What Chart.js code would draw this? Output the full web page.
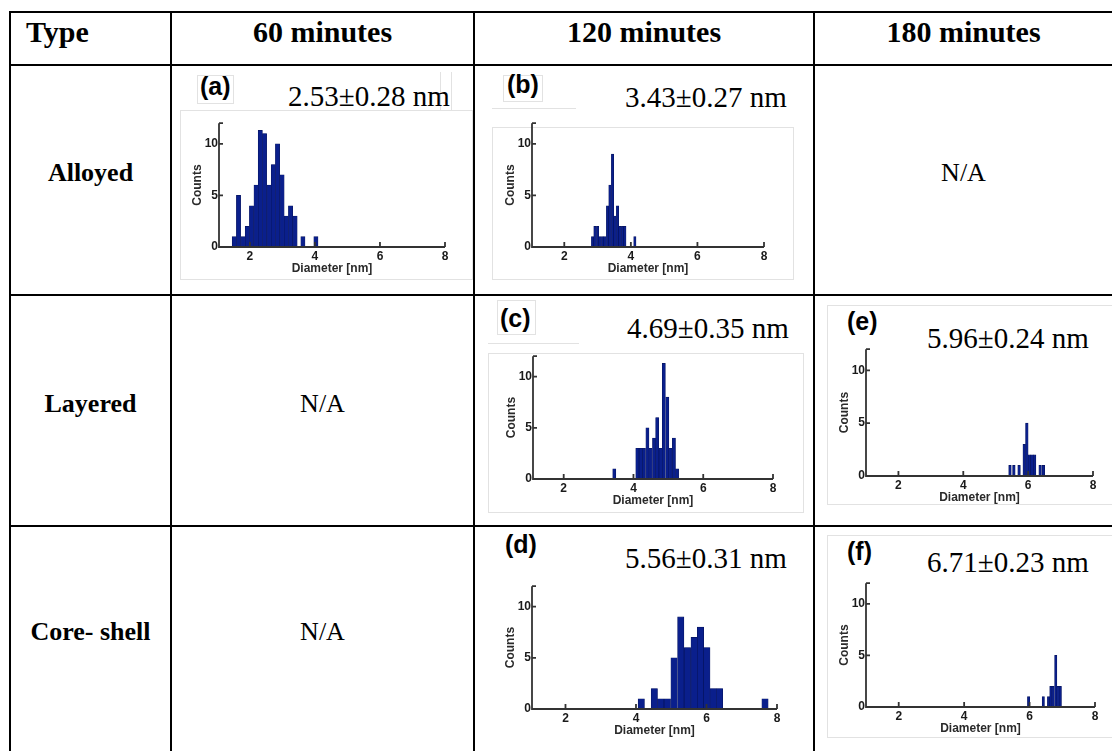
<!DOCTYPE html>
<html lang="en">
<head>
<meta charset="UTF-8">
<title>Particle size histograms</title>
<script src="https://cdn.jsdelivr.net/npm/chart.js"></script>
<style>
  html, body { margin: 0; padding: 0; background: #fff; }
  #page { position: relative; width: 1112px; height: 751px; overflow: hidden; }
  .line { position: absolute; background: #000; }
  .frame { position: absolute; border: 1px solid #e2e2e2; box-sizing: border-box; }
  .hair { position: absolute; background: #e2e2e2; }
  .txt { position: absolute; white-space: nowrap; color: #000; }
  canvas { position: absolute; }
</style>
</head>
<body>
<div id="page"></div>
<script>
  // table text
  const columns = ['Type', '60 minutes', '120 minutes', '180 minutes'];
  const rowTypes = ['Alloyed', 'Layered', 'Core- shell'];
  const missing = 'N/A';

  // histogram labels
  const panelLabels = ['(a)', '(b)', '(c)', '(d)', '(e)', '(f)'];
  const sizeLabels = ['2.53±0.28 nm', '3.43±0.27 nm', '4.69±0.35 nm', '5.56±0.31 nm', '5.96±0.24 nm', '6.71±0.23 nm'];
  const xTicks = [2, 4, 6, 8];
  const yTicks = [0, 5, 10];

  // bin centres [nm] and counts
  const diamA = [1.52, 1.65, 1.79, 1.92, 2.05, 2.19, 2.32, 2.45, 2.59, 2.72, 2.85, 2.99, 3.12, 3.25, 3.39, 3.63, 4.03];
  const countsA = [1, 5, 1, 2, 4, 6, 11.3, 11, 6, 8, 10, 7, 3, 4, 3, 1, 1];

  const diamB = [2.85, 2.92, 3.00, 3.07, 3.15, 3.22, 3.30, 3.37, 3.45, 3.52, 3.60, 3.67, 3.75, 3.82, 4.12];
  const countsB = [1, 2, 2, 1, 1, 1, 4, 6, 9, 3, 4, 2, 2, 2, 1];

  const diamC = [3.45, 4.11, 4.21, 4.30, 4.40, 4.49, 4.59, 4.68, 4.78, 4.87, 4.97, 5.06, 5.16, 5.25];
  const countsC = [1, 3, 3, 3, 5, 3, 4, 6, 3, 11.3, 8, 3, 4, 1];

  const diamD = [4.15, 4.52, 4.70, 4.89, 5.08, 5.27, 5.46, 5.65, 5.83, 6.01, 6.19, 6.37, 7.66];
  const countsD = [1, 2, 1, 1, 5, 9, 6, 7, 8, 6, 2, 2, 1];

  const diamE = [5.44, 5.56, 5.72, 5.88, 5.96, 6.04, 6.12, 6.20, 6.37, 6.47];
  const countsE = [1, 1, 1, 3, 5, 2, 2, 2, 1, 1];

  const diamF = [5.97, 6.42, 6.58, 6.65, 6.72, 6.80, 6.87, 6.94];
  const countsF = [1, 1, 1, 2, 2, 5, 2, 2];

  const page = document.getElementById('page');
  const SERIF = '"Liberation Serif", "Times New Roman", serif';
  const SANS = '"Liberation Sans", Arial, sans-serif';

  // put a line of text so that its baseline lands on y
  function addText(str, o) {
    const d = document.createElement('div');
    d.className = 'txt';
    d.textContent = str;
    d.style.font = (o.bold ? 'bold ' : '') + o.size + 'px ' + (o.serif ? SERIF : SANS);
    d.style.lineHeight = '1';
    const off = o.serif ? 0.8375 : 0.8465;
    d.style.top = (o.baseline - off * o.size) + 'px';
    d.style.left = o.left + 'px';
    if (o.width) {
      d.style.width = o.width + 'px';
      d.style.textAlign = 'center';
    }
    page.appendChild(d);
  }

  function addBox(cls, x, y, w, h) {
    const d = document.createElement('div');
    d.className = cls;
    d.style.left = x + 'px';
    d.style.top = y + 'px';
    d.style.width = w + 'px';
    d.style.height = h + 'px';
    page.appendChild(d);
  }

  // table grid (left/top of each 2px rule)
  const colEdges = [9, 170, 473, 813, 1112];
  const rowEdges = [11, 64, 294, 525, 751];
  rowEdges.slice(0, 4).forEach(y => addBox('line', 9, y, 1112 - 9, 2));
  colEdges.slice(0, 4).forEach(x => addBox('line', x, 11, 2, 751 - 11));

  // header row
  addText(columns[0], { left: 26, baseline: 42, size: 30, bold: true, serif: true });
  for (let c = 1; c < 4; c++) {
    addText(columns[c], { left: colEdges[c] + 2, width: colEdges[c + 1] - colEdges[c] - 2, baseline: 42, size: 30, bold: true, serif: true });
  }

  // row names and empty cells (body row r lies between rowEdges[r+1] and rowEdges[r+2])
  const rowMid = r => (rowEdges[r + 1] + 2 + rowEdges[r + 2]) / 2;
  const empty = [[0, 3], [1, 1], [2, 1]];
  rowTypes.forEach((name, r) => {
    addText(name, { left: colEdges[0] + 2, width: colEdges[1] - colEdges[0] - 2, baseline: rowMid(r) + 2, size: 26, bold: true, serif: true });
  });
  empty.forEach(([r, c]) => {
    addText(missing, { left: colEdges[c] + 2, width: colEdges[c + 1] - colEdges[c] - 2, baseline: rowMid(r) + 2, size: 26, serif: true });
  });

  // faint edges of the pasted figures
  addBox('frame', 180, 110, 293, 170);
  addBox('frame', 197, 75, 37, 29);
  addBox('hair', 440, 72, 1, 39);
  addBox('hair', 451, 72, 1, 39);
  addBox('hair', 492, 108, 84, 1);
  addBox('frame', 492, 127, 302, 153);
  addBox('frame', 503, 75, 40, 27);
  addBox('frame', 497, 300, 39, 35);
  addBox('hair', 488, 343, 91, 1);
  addBox('frame', 488, 353, 316, 160);
  addBox('frame', 827, 305, 290, 200);
  addBox('frame', 827, 535, 290, 203);

  // one entry per histogram: data arrays plus where it sits on the page
  const panels = [
    { diam: diamA, counts: countsA, plot: [219, 445, 123, 247], xMin: 1.05, label: [200, 95], size: [288, 106] },
    { diam: diamB, counts: countsB, plot: [532, 764, 123, 247], xMin: 1.03, label: [507, 93], size: [625, 107] },
    { diam: diamC, counts: countsC, plot: [533, 773, 356, 479], xMin: 1.12, label: [500, 327], size: [627, 338] },
    { diam: diamD, counts: countsD, plot: [532, 777, 586, 709], xMin: 1.05, label: [505, 553], size: [625, 568] },
    { diam: diamE, counts: countsE, plot: [866, 1093, 349, 476], xMin: 1.0, label: [847, 330], size: [927, 348] },
    { diam: diamF, counts: countsF, plot: [866, 1095, 583, 707], xMin: 1.0, label: [847, 560], size: [927, 572] }
  ];

  // MATLAB-like axes: lines on left/bottom, ticks pointing inward
  const inwardTicks = {
    id: 'inwardTicks',
    afterDatasetsDraw(chart) {
      const { ctx, chartArea: a, scales: { x, y } } = chart;
      ctx.save();
      ctx.strokeStyle = '#333';
      ctx.lineWidth = 1.8;
      ctx.beginPath();
      ctx.moveTo(a.left, a.top);
      ctx.lineTo(a.left, a.bottom);
      ctx.lineTo(a.right, a.bottom);
      x.ticks.forEach(t => {
        const px = x.getPixelForValue(t.value);
        ctx.moveTo(px, a.bottom);
        ctx.lineTo(px, a.bottom - 5);
      });
      y.ticks.forEach(t => {
        const py = y.getPixelForValue(t.value);
        ctx.moveTo(a.left, py);
        ctx.lineTo(a.left + 4, py);
      });
      ctx.stroke();
      ctx.restore();
    }
  };

  const AXW = 45, AXH = 30, PADT = 8, PADR = 12;

  panels.forEach((p, i) => {
    addText(panelLabels[i], { left: p.label[0], baseline: p.label[1], size: 25, bold: true });
    addText(sizeLabels[i], { left: p.size[0], baseline: p.size[1], size: 29, serif: true });

    const [L, R, T, B] = p.plot;
    const cv = document.createElement('canvas');
    const w = R - L + AXW + PADR, h = B - T + PADT + AXH;
    cv.width = w; cv.height = h;
    cv.style.width = w + 'px'; cv.style.height = h + 'px';
    cv.style.left = (L - AXW) + 'px';
    cv.style.top = (T - PADT) + 'px';
    page.appendChild(cv);

    new Chart(cv, {
      type: 'bar',
      data: {
        datasets: [{
          data: p.diam.map((d, k) => ({ x: d, y: p.counts[k] })),
          backgroundColor: '#0a1f8c',
          borderColor: '#06145e',
          borderWidth: 0.6,
          barPercentage: 1,
          categoryPercentage: 1,
          grouped: false
        }]
      },
      options: {
        responsive: false,
        animation: false,
        devicePixelRatio: 1,
        layout: { padding: { top: PADT, right: PADR, left: 0, bottom: 0 } },
        plugins: { legend: { display: false }, tooltip: { enabled: false } },
        scales: {
          x: {
            type: 'linear', offset: false, min: p.xMin, max: 8,
            grid: { display: false, drawTicks: false }, border: { display: false },
            afterBuildTicks: s => { s.ticks = xTicks.map(v => ({ value: v })); },
            afterFit: s => { s.height = AXH; },
            ticks: { padding: 2, color: '#1a1a1a', maxRotation: 0, autoSkip: false, font: { family: SANS, size: 12, weight: 'bold' } },
            title: { display: true, text: 'Diameter [nm]', color: '#2a2a2a', padding: { top: 0, bottom: 1 }, font: { family: SANS, size: 12, weight: 'bold' } }
          },
          y: {
            min: 0, max: 12,
            grid: { display: false, drawTicks: false }, border: { display: false },
            afterBuildTicks: s => { s.ticks = yTicks.concat([12]).map(v => ({ value: v })); },
            afterFit: s => { s.width = AXW; },
            ticks: { padding: 1, color: '#1a1a1a', callback: v => (yTicks.includes(v) ? v : ''), font: { family: SANS, size: 12, weight: 'bold' } },
            title: { display: true, text: 'Counts', color: '#2a2a2a', padding: { top: 16, bottom: 0 }, font: { family: SANS, size: 12, weight: 'bold' } }
          }
        }
      },
      plugins: [inwardTicks]
    });
  });
</script>
</body>
</html>
